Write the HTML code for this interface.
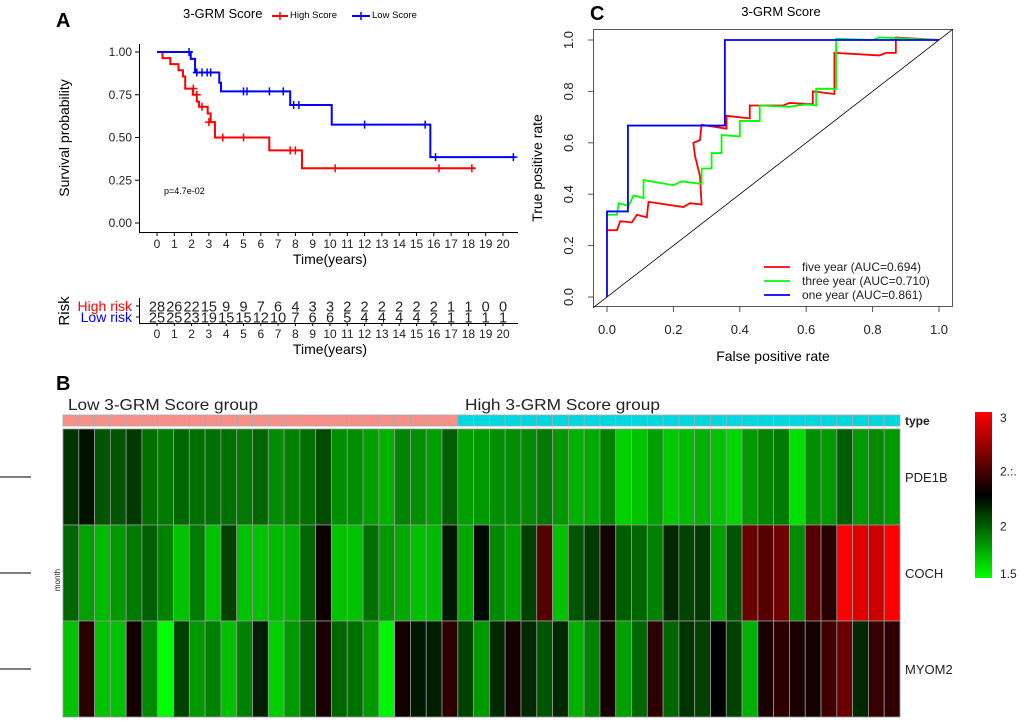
<!DOCTYPE html>
<html><head><meta charset="utf-8"><style>
body{margin:0;background:#fff;}
svg{display:block;font-family:"Liberation Sans",sans-serif;}
</style></head><body>
<svg id="fig" width="1020" height="721" viewBox="0 0 1020 721">
<g id="pA"></g>
<g id="pC"></g>
<g id="pB"></g>
</svg>
<script>
// ---------- Panel A data ----------
const kmYears = [0,1,2,3,4,5,6,7,8,9,10,11,12,13,14,15,16,17,18,19,20];
const kmYTicks = [0,0.25,0.5,0.75,1];
const kmYTickLabels = ["0.00","0.25","0.50","0.75","1.00"];
const highStepT = [0,0.32,0.77,1.24,1.5,1.63,2.07,2.3,2.43,2.93,3.1,3.35,6.49,8.38,18.4];
const highStepS = [1,0.964,0.929,0.893,0.857,0.786,0.75,0.71,0.68,0.64,0.59,0.5,0.425,0.32,0.32];
const highCensT = [2.1,2.3,2.6,3.0,3.8,5.0,7.7,8.0,10.3,16.3,18.2];
const highCensS = [0.786,0.75,0.68,0.59,0.5,0.5,0.425,0.425,0.32,0.32,0.32];
const lowStepT = [0,1.95,2.2,3.6,3.7,7.7,10.1,15.8,20.7];
const lowStepS = [1,0.96,0.88,0.82,0.77,0.69,0.575,0.385,0.385];
const lowCensT = [1.85,2.3,2.6,2.9,3.1,5.0,5.2,6.5,7.3,7.9,8.2,12.0,15.5,16.1,20.6];
const lowCensS = [1,0.88,0.88,0.88,0.88,0.77,0.77,0.77,0.77,0.69,0.69,0.575,0.575,0.385,0.385];
const highRisk = [28,26,22,15,9,9,7,6,4,3,3,2,2,2,2,2,2,1,1,0,0];
const lowRisk = [25,25,23,19,15,15,12,10,7,6,6,5,4,4,4,4,2,1,1,1,1];
// ---------- Panel C data ----------
const rocTicks = [0,0.2,0.4,0.6,0.8,1];
const rocTickLabels = ["0.0","0.2","0.4","0.6","0.8","1.0"];
const oneFpr = [0,0,0.063,0.063,0.355,0.355,1];
const oneTpr = [0,0.333,0.333,0.667,0.667,1,1];
const fiveFpr = [0,0.03,0.04,0.075,0.09,0.12,0.125,0.23,0.25,0.285,0.28,0.265,0.26,0.28,0.285,0.36,0.36,0.43,0.43,0.53,0.55,0.62,0.62,0.685,0.685,0.82,0.84,0.87,0.87,1];
const fiveTpr = [0.26,0.26,0.295,0.29,0.32,0.31,0.37,0.35,0.365,0.36,0.47,0.55,0.6,0.61,0.67,0.655,0.705,0.695,0.745,0.745,0.755,0.75,0.8,0.79,0.95,0.94,0.95,0.95,1.01,1];
const threeFpr = [0,0.03,0.035,0.065,0.08,0.11,0.11,0.2,0.225,0.285,0.285,0.315,0.315,0.345,0.345,0.4,0.4,0.46,0.46,0.55,0.6,0.63,0.63,0.69,0.69,0.8,0.82,1];
const threeTpr = [0.32,0.32,0.365,0.355,0.395,0.385,0.455,0.435,0.45,0.44,0.5,0.5,0.56,0.56,0.63,0.625,0.685,0.685,0.745,0.74,0.75,0.745,0.81,0.81,1.005,1,1.01,1];
const rocLegend = ["five year (AUC=0.694)","three year (AUC=0.710)","one year (AUC=0.861)"];
// ---------- Panel B data ----------
const genes = ["PDE1B","COCH","MYOM2"];
const groupLow = 25, groupHigh = 28;
const pde1b = [2.1,2.2,2.0,2.0,2.08,1.92,1.89,1.95,1.92,1.92,1.92,1.89,1.95,1.84,1.87,1.92,2.03,1.83,1.83,1.78,1.73,1.86,1.83,1.78,1.97,
 1.78,1.8,1.83,1.83,1.84,1.89,1.8,1.73,1.75,1.87,1.64,1.68,1.78,1.66,1.7,1.73,1.68,1.62,1.8,1.86,1.89,1.59,1.83,1.8,1.97,1.8,1.84,1.8];
const coch = [1.95,1.78,1.7,1.8,1.89,1.97,1.87,1.68,1.89,1.68,2.06,1.68,1.68,1.7,1.73,1.95,2.29,1.68,1.68,1.92,1.8,1.75,1.68,1.7,2.18,
 1.76,2.22,1.85,1.78,2.06,2.5,1.68,2.0,2.08,2.31,1.97,1.95,1.87,2.13,2.05,2.08,1.78,2.0,2.56,2.5,2.58,1.84,2.5,2.37,3.0,2.91,2.85,3.0];
const myom2 = [1.68,2.37,1.68,1.68,2.31,1.84,1.5,2.06,1.8,1.87,1.68,1.87,2.16,1.64,1.8,1.97,2.32,1.95,1.92,1.8,1.53,2.3,2.18,2.16,2.38,
 2.06,1.8,2.13,2.31,2.13,2.0,2.13,1.73,1.87,2.31,1.78,1.95,2.38,1.95,2.1,2.06,2.25,2.06,1.73,2.32,2.38,2.32,2.31,2.44,2.56,2.13,2.41,2.38];
const cbTicks = [3,2.5,2,1.5];
const cbTickLabels = ["3","2.:.","2","1.5"];

const NS="http://www.w3.org/2000/svg";
function mk(parent,tag,attrs,text){const e=document.createElementNS(NS,tag);for(const k in attrs)e.setAttribute(k,attrs[k]);if(text!==undefined)e.textContent=text;parent.appendChild(e);return e;}

// ===== Panel A =====
const A=document.getElementById('pA');
const kx=t=>157+t*17.3, ky=s=>223-s*171;
let e;
e=mk(A,'text',{x:56,y:27,'font-size':20,'font-weight':'bold'},'A');


e=mk(A,'text',{x:183,y:18,'font-size':13},'3-GRM Score');


const lg=mk(A,'g',{});


mk(lg,'line',{x1:272,y1:16,x2:288,y2:16,stroke:'#f00','stroke-width':2});
mk(lg,'line',{x1:280,y1:12,x2:280,y2:20,stroke:'#f00','stroke-width':1.5});
mk(lg,'text',{x:290,y:18,'font-size':9.5},'High Score');
mk(lg,'line',{x1:352,y1:16,x2:370,y2:16,stroke:'#00f','stroke-width':2});
mk(lg,'line',{x1:361,y1:12,x2:361,y2:20,stroke:'#00f','stroke-width':1.5});
mk(lg,'text',{x:372,y:18,'font-size':9.5},'Low Score');
const ax=mk(A,'g',{stroke:'#000','stroke-width':1});


mk(ax,'line',{x1:139.5,y1:44,x2:139.5,y2:232});
mk(ax,'line',{x1:139,y1:232.5,x2:518,y2:232.5});
kmYTicks.forEach((v,i)=>{mk(ax,'line',{x1:135,y1:ky(v),x2:139,y2:ky(v)});
 e=mk(A,'text',{x:132,y:ky(v)+4,'font-size':12,'text-anchor':'end',fill:'#222'},kmYTickLabels[i]);
 
 });
kmYears.forEach(t=>{mk(ax,'line',{x1:kx(t),y1:232,x2:kx(t),y2:236});
 e=mk(A,'text',{x:kx(t),y:248,'font-size':12,'text-anchor':'middle',fill:'#222'},String(t));
 
 });
e=mk(A,'text',{x:330,y:264,'font-size':14,'text-anchor':'middle'},'Time(years)');


e=mk(A,'text',{x:0,y:0,'font-size':14,'text-anchor':'middle',transform:'translate(69,138) rotate(-90)'},'Survival probability');


e=mk(A,'text',{x:164,y:194,'font-size':9},'p=4.7e-02');


function stepPath(T,S){let d=`M${kx(T[0])},${ky(S[0])}`;for(let i=1;i<T.length;i++){d+=`H${kx(T[i])}V${ky(S[i])}`;}return d;}
function drawKM(T,S,CT,CS,col,name){
 const p=mk(A,'path',{d:stepPath(T,S),fill:'none',stroke:col,'stroke-width':2});
 
 
 CT.forEach((t,i)=>{const c=mk(A,'path',{d:`M${kx(t)-4},${ky(CS[i])}h8M${kx(t)},${ky(CS[i])-4}v8`,stroke:col,'stroke-width':1.5});
  
  });
}
drawKM(highStepT,highStepS,highCensT,highCensS,'#f00','high-score');
drawKM(lowStepT,lowStepS,lowCensT,lowCensS,'#00f','low-score');
// risk table
mk(ax,'line',{x1:139.5,y1:298,x2:139.5,y2:323});
mk(ax,'line',{x1:139,y1:323.5,x2:518,y2:323.5});
mk(ax,'line',{x1:136,y1:306,x2:139,y2:306});mk(ax,'line',{x1:136,y1:317,x2:139,y2:317});
e=mk(A,'text',{x:132,y:311,'font-size':14,'text-anchor':'end',fill:'#f00'},'High risk');


e=mk(A,'text',{x:132,y:322,'font-size':14,'text-anchor':'end',fill:'#00f'},'Low risk');


e=mk(A,'text',{x:0,y:0,'font-size':15,'text-anchor':'middle',transform:'translate(69,311) rotate(-90)'},'Risk');


kmYears.forEach((t,i)=>{
 e=mk(A,'text',{x:kx(t),y:311.5,'font-size':14.5,'text-anchor':'middle',fill:'#222'},String(highRisk[i]));
 
 
 e=mk(A,'text',{x:kx(t),y:322.5,'font-size':14.5,'text-anchor':'middle',fill:'#222'},String(lowRisk[i]));
 
 
 mk(ax,'line',{x1:kx(t),y1:323,x2:kx(t),y2:326});
 e=mk(A,'text',{x:kx(t),y:338,'font-size':12,'text-anchor':'middle',fill:'#222'},String(t));
 
 
});
e=mk(A,'text',{x:330,y:354,'font-size':14,'text-anchor':'middle'},'Time(years)');



// ===== Panel C =====
const C=document.getElementById('pC');
const rx=v=>607+v*332, ry=v=>297-v*257;
e=mk(C,'text',{x:590,y:20,'font-size':20,'font-weight':'bold'},'C');


e=mk(C,'text',{x:781,y:16,'font-size':13,'text-anchor':'middle'},'3-GRM Score');


e=mk(C,'rect',{x:593.5,y:29.5,width:359,height:277,fill:'none',stroke:'#555','stroke-width':1});


rocTicks.forEach((v,i)=>{
 mk(C,'line',{x1:rx(v),y1:307,x2:rx(v),y2:312,stroke:'#555'});
 e=mk(C,'text',{x:rx(v),y:334,'font-size':13,'text-anchor':'middle',fill:'#222'},rocTickLabels[i]);
 
 
 mk(C,'line',{x1:588,y1:ry(v),x2:593,y2:ry(v),stroke:'#555'});
 e=mk(C,'text',{x:0,y:0,'font-size':13,'text-anchor':'middle',fill:'#222',transform:`translate(573,${ry(v)}) rotate(-90)`},rocTickLabels[i]);
 
 
});
e=mk(C,'text',{x:773,y:361,'font-size':14,'text-anchor':'middle'},'False positive rate');


e=mk(C,'text',{x:0,y:0,'font-size':14,'text-anchor':'middle',transform:'translate(542,168) rotate(-90)'},'True positive rate');


e=mk(C,'line',{x1:rx(-0.042),y1:ry(-0.042),x2:rx(1.042),y2:ry(1.042),stroke:'#000','stroke-width':0.8});


function rocLine(F,T,col,name){let d='';F.forEach((f,i)=>{d+=(i?'L':'M')+rx(f)+','+ry(T[i]);});
 const p=mk(C,'path',{d:d,fill:'none',stroke:col,'stroke-width':1.8});
 
 }
rocLine(fiveFpr,fiveTpr,'#f00','five-year-roc');
rocLine(threeFpr,threeTpr,'#0f0','three-year-roc');
rocLine(oneFpr,oneTpr,'#00f','one-year-roc');
['#f00','#0f0','#00f'].forEach((c,i)=>{
 const g=mk(C,'g',{});
 
 
 mk(g,'line',{x1:764,y1:267+i*14,x2:790,y2:267+i*14,stroke:c,'stroke-width':1.8});
 mk(g,'text',{x:802,y:271+i*14,'font-size':12,fill:'#222'},rocLegend[i]);
});

// ===== Panel B =====
const B=document.getElementById('pB');
e=mk(B,'text',{x:56,y:390,'font-size':20,'font-weight':'bold'},'B');


e=mk(B,'text',{x:68,y:410,'font-size':16,fill:'#222','textLength':190,'lengthAdjust':'spacingAndGlyphs'},'Low 3-GRM Score group');


e=mk(B,'text',{x:465,y:410,'font-size':16,fill:'#222','textLength':195,'lengthAdjust':'spacingAndGlyphs'},'High 3-GRM Score group');


const hx0=63, cw=837/53, rowY=[429,525,621], rowH=96;
function colr(v){if(v<=2.25){const g=Math.round(255*Math.max(0,Math.min(1,(2.25-v)/0.75)));return `rgb(0,${g},0)`;}
 const r=Math.round(255*Math.max(0,Math.min(1,(v-2.25)/0.75)));return `rgb(${r},0,0)`;}
const nCols=groupLow+groupHigh;
for(let j=0;j<nCols;j++){
 const c=mk(B,'rect',{x:hx0+j*cw,y:415,width:cw,height:11,fill:j<groupLow?'#f8908a':'#00d8e0',stroke:'#aaa','stroke-width':0.8});
 
 
}
[pde1b,coch,myom2].forEach((arr,r)=>{
 arr.forEach((v,j)=>{
  const c=mk(B,'rect',{x:hx0+j*cw,y:rowY[r],width:cw,height:rowH,fill:colr(v),stroke:'#999','stroke-width':0.8});
  
  
 });
 e=mk(B,'text',{x:905,y:rowY[r]+rowH/2+5,'font-size':13,fill:'#222'},genes[r]);
 
 
 e=mk(B,'line',{x1:0,y1:rowY[r]+rowH/2,x2:31,y2:rowY[r]+rowH/2,stroke:'#333','stroke-width':1.2});
 
 
});
e=mk(B,'text',{x:905,y:425,'font-size':12,'font-weight':'bold',fill:'#222'},'type');


e=mk(B,'text',{x:0,y:0,'font-size':8,'text-anchor':'middle',fill:'#222',transform:'translate(60,580) rotate(-90)'},'month');


const defs=mk(document.getElementById('fig'),'defs',{});
const gr=mk(defs,'linearGradient',{id:'cb',x1:0,y1:0,x2:0,y2:1});
mk(gr,'stop',{offset:'0','stop-color':'#ff0000'});
mk(gr,'stop',{offset:'0.5','stop-color':'#000000'});
mk(gr,'stop',{offset:'1','stop-color':'#00ff00'});
e=mk(B,'rect',{x:975,y:412,width:17,height:166,fill:'url(#cb)'});


const cby=v=>578-(v-1.5)/1.5*166;
cbTicks.forEach((v,i)=>{
 e=mk(B,'text',{x:1000,y:Math.min(Math.max(cby(v)+8,422),578),'font-size':12,fill:'#222'},cbTickLabels[i]);
 
 
});
</script>
</body></html>
